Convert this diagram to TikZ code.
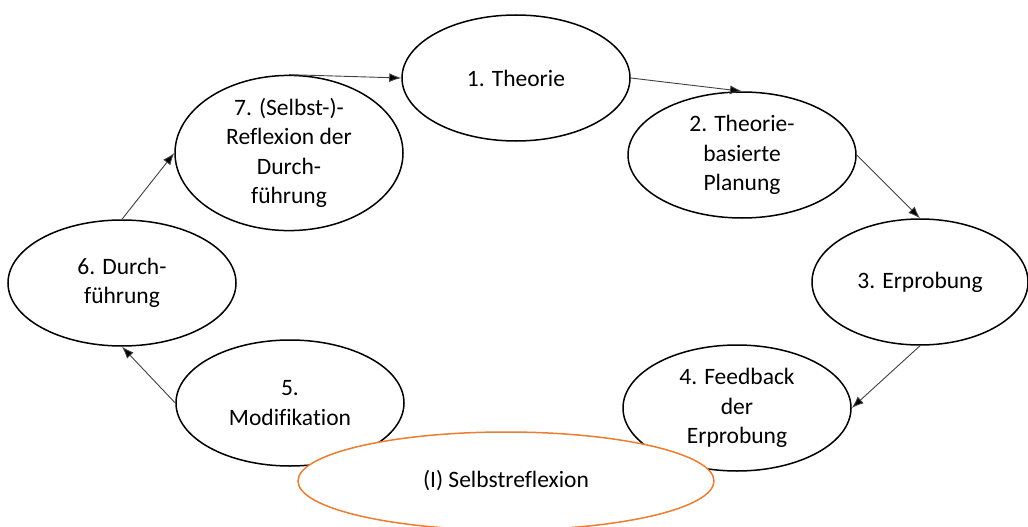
\documentclass[tikz,border=0pt]{standalone}
\usepackage{fontspec}
\setmainfont[Ligatures=NoCommon]{Carlito}
\usetikzlibrary{shapes.geometric,arrows.meta}
\definecolor{accent}{HTML}{ED7D31}
\definecolor{arrowgray}{HTML}{404040}
\tikzset{
  phase/.style={ellipse, draw=black, line width=1.5pt, fill=white,
    minimum width=228pt, minimum height=126pt, inner sep=0pt,
    align=center, font=\fontsize{23.5}{29.5}\selectfont},
  reflect/.style={ellipse, draw=accent, line width=1.5pt, fill=white,
    minimum width=416pt, minimum height=98pt, inner sep=0pt,
    align=center, font=\fontsize{23.5}{29.5}\selectfont},
  flow/.style={draw=arrowgray, line width=0.9pt,
    -{Latex[length=12pt,width=9pt,fill=black]}}
}
\begin{document}
\begin{tikzpicture}[x=1pt,y=-1pt]
\useasboundingbox[fill=white] (0,0) rectangle (1028,527);
% cycle stages
\node[phase] (n1) at (516,78)  {1. Theorie};
\node[phase] (n2) at (742,155) {2. Theorie-\\basierte\\Planung};
\node[phase, minimum width=216pt] (n3) at (920,282) {3. Erprobung};
\node[phase] (n4) at (737,408) {4. Feedback\\der\\Erprobung};
\node[phase] (n5) at (290,403) {5.\\Modifikation};
\node[phase] (n6) at (122,283) {6. Durch-\\führung};
\node[phase] (n7) at (289,153) {7. (Selbst-)-\\Reflexion der\\Durch-\\führung};
% transitions between stages
\draw[flow] (n7.north) -- (n1.west);
\draw[flow] (n1.east) -- (n2.north);
\draw[flow] (n2.east) -- (n3.north);
\draw[flow] (n3.south) -- (n4.east);
\draw[flow] (n5.west) -- (n6.south);
\draw[flow] (n6.north) -- (n7.west);
% overlaid self-reflection phase
\node[reflect] (sr) at (506,481) {(I) Selbstreflexion};
\end{tikzpicture}
\end{document}
